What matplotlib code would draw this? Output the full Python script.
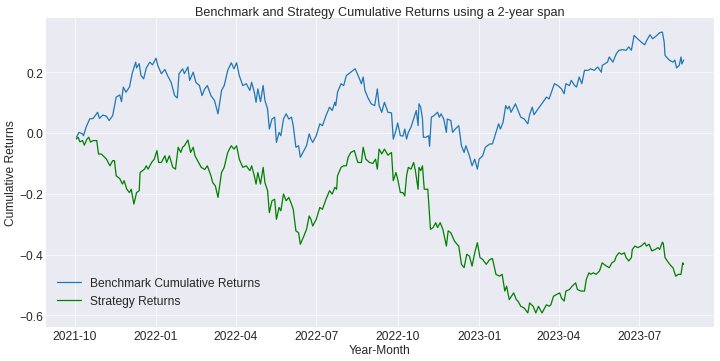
import pandas as pd
import matplotlib
matplotlib.use("Agg")
import matplotlib.pyplot as plt
import matplotlib.dates as mdates

# Benchmark cumulative returns
bench_dates = [
    "2021-10-03", "2021-10-06", "2021-10-10", "2021-10-11", "2021-10-14", "2021-10-18", "2021-10-22",
    "2021-10-27", "2021-10-29", "2021-11-02", "2021-11-06", "2021-11-09", "2021-11-13", "2021-11-17",
    "2021-11-21", "2021-11-23", "2021-11-25", "2021-11-28", "2021-12-02", "2021-12-05", "2021-12-09",
    "2021-12-10", "2021-12-13", "2021-12-15", "2021-12-18", "2021-12-21", "2021-12-25", "2021-12-28",
    "2022-01-01", "2022-01-03", "2022-01-07", "2022-01-11", "2022-01-14", "2022-01-18", "2022-01-22",
    "2022-01-25", "2022-01-27", "2022-01-31", "2022-02-02", "2022-02-06", "2022-02-08", "2022-02-12",
    "2022-02-15", "2022-02-19", "2022-02-22", "2022-02-25", "2022-02-28", "2022-03-04", "2022-03-08",
    "2022-03-12", "2022-03-16", "2022-03-19", "2022-03-23", "2022-03-27", "2022-03-30", "2022-04-02",
    "2022-04-05", "2022-04-09", "2022-04-13", "2022-04-17", "2022-04-19", "2022-04-22", "2022-04-24",
    "2022-04-26", "2022-04-29", "2022-05-02", "2022-05-04", "2022-05-07", "2022-05-09", "2022-05-12",
    "2022-05-15", "2022-05-17", "2022-05-20", "2022-05-22", "2022-05-25", "2022-05-28", "2022-05-31",
    "2022-06-03", "2022-06-05", "2022-06-08", "2022-06-11", "2022-06-13", "2022-06-17", "2022-06-20",
    "2022-06-23", "2022-06-25", "2022-06-27", "2022-07-01", "2022-07-05", "2022-07-08", "2022-07-12",
    "2022-07-16", "2022-07-19", "2022-07-22", "2022-07-23", "2022-07-25", "2022-07-29", "2022-08-01",
    "2022-08-04", "2022-08-09", "2022-08-14", "2022-08-18", "2022-08-21", "2022-08-23", "2022-08-25",
    "2022-08-28", "2022-09-01", "2022-09-05", "2022-09-08", "2022-09-10", "2022-09-13", "2022-09-16",
    "2022-09-20", "2022-09-24", "2022-09-26", "2022-09-29", "2022-10-01", "2022-10-04", "2022-10-07",
    "2022-10-09", "2022-10-11", "2022-10-13", "2022-10-16", "2022-10-19", "2022-10-22", "2022-10-24",
    "2022-10-25", "2022-10-27", "2022-10-29", "2022-10-30", "2022-11-02", "2022-11-05", "2022-11-06",
    "2022-11-08", "2022-11-11", "2022-11-15", "2022-11-17", "2022-11-19", "2022-11-22", "2022-11-25",
    "2022-11-26", "2022-11-30", "2022-12-02", "2022-12-05", "2022-12-09", "2022-12-12", "2022-12-15",
    "2022-12-17", "2022-12-21", "2022-12-24", "2022-12-27", "2022-12-30", "2023-01-01", "2023-01-05",
    "2023-01-08", "2023-01-13", "2023-01-16", "2023-01-20", "2023-01-23", "2023-01-25", "2023-01-28",
    "2023-01-31", "2023-02-02", "2023-02-04", "2023-02-06", "2023-02-08", "2023-02-11", "2023-02-14",
    "2023-02-17", "2023-02-21", "2023-02-25", "2023-02-27", "2023-03-02", "2023-03-04", "2023-03-08",
    "2023-03-14", "2023-03-18", "2023-03-21", "2023-03-23", "2023-03-27", "2023-03-31", "2023-04-04",
    "2023-04-07", "2023-04-09", "2023-04-13", "2023-04-15", "2023-04-19", "2023-04-21", "2023-04-24",
    "2023-04-27", "2023-04-30", "2023-05-04", "2023-05-07", "2023-05-11", "2023-05-15", "2023-05-19",
    "2023-05-20", "2023-05-26", "2023-05-28", "2023-06-01", "2023-06-05", "2023-06-08", "2023-06-12",
    "2023-06-16", "2023-06-19", "2023-06-22", "2023-06-25", "2023-06-29", "2023-07-03", "2023-07-07",
    "2023-07-09", "2023-07-13", "2023-07-16", "2023-07-20", "2023-07-24", "2023-07-27", "2023-07-29",
    "2023-07-30", "2023-08-04", "2023-08-08", "2023-08-10", "2023-08-12", "2023-08-15", "2023-08-17",
    "2023-08-18", "2023-08-20",
]
bench_values = [
    -0.014, 0.002, -0.003, -0.009, 0.019, 0.046, 0.048,
    0.068, 0.048, 0.059, 0.055, 0.041, 0.057, 0.118,
    0.125, 0.103, 0.151, 0.134, 0.151, 0.195, 0.233,
    0.214, 0.228, 0.189, 0.178, 0.214, 0.233, 0.224,
    0.246, 0.222, 0.195, 0.209, 0.189, 0.167, 0.123,
    0.115, 0.195, 0.211, 0.195, 0.217, 0.173, 0.200,
    0.167, 0.156, 0.123, 0.145, 0.156, 0.123, 0.107,
    0.063, 0.140, 0.156, 0.206, 0.231, 0.211, 0.231,
    0.189, 0.156, 0.162, 0.140, 0.167, 0.134, 0.101,
    0.145, 0.103, 0.156, 0.107, 0.079, 0.013, 0.046,
    0.052, -0.031, 0.002, -0.009, 0.046, 0.063, 0.046,
    0.052, 0.024, -0.047, -0.042, -0.080, -0.058, -0.042,
    -0.003, -0.020, -0.031, -0.009, 0.030, 0.024, 0.057,
    0.085, 0.074, 0.101, 0.090, 0.134, 0.162, 0.156,
    0.189, 0.200, 0.211, 0.184, 0.162, 0.184, 0.140,
    0.118, 0.096, 0.090, 0.145, 0.090, 0.068, 0.101,
    0.068, 0.066, -0.020, 0.008, 0.033, -0.009, -0.010,
    0.013, -0.020, 0.002, 0.019, 0.046, 0.074, 0.024,
    0.096, 0.085, 0.046, -0.014, -0.014, -0.009, -0.044,
    0.052, 0.057, 0.068, 0.052, 0.063, 0.046, 0.002,
    0.046, 0.041, 0.002, 0.013, 0.024, -0.042, -0.064,
    -0.042, -0.075, -0.108, -0.086, -0.119, -0.086, -0.075,
    -0.047, -0.036, -0.036, 0.002, 0.030, 0.013, 0.035,
    0.090, 0.079, 0.088, 0.068, 0.079, 0.096, 0.074,
    0.052, 0.046, 0.030, 0.060, 0.085, 0.060, 0.077,
    0.101, 0.118, 0.112, 0.129, 0.162, 0.156, 0.145,
    0.129, 0.162, 0.156, 0.173, 0.156, 0.151, 0.184,
    0.162, 0.206, 0.206, 0.211, 0.206, 0.217, 0.200,
    0.222, 0.233, 0.250, 0.233, 0.261, 0.272, 0.274,
    0.272, 0.283, 0.272, 0.321, 0.310, 0.299, 0.290,
    0.303, 0.323, 0.310, 0.319, 0.330, 0.332, 0.299,
    0.255, 0.239, 0.233, 0.240, 0.214, 0.222, 0.250,
    0.227, 0.240,
]

# Strategy cumulative returns
strat_dates = [
    "2021-10-03", "2021-10-05", "2021-10-07", "2021-10-10", "2021-10-12", "2021-10-15", "2021-10-17",
    "2021-10-19", "2021-10-22", "2021-10-26", "2021-10-28", "2021-10-31", "2021-11-03", "2021-11-06",
    "2021-11-10", "2021-11-13", "2021-11-15", "2021-11-17", "2021-11-21", "2021-11-24", "2021-11-26",
    "2021-11-29", "2021-12-02", "2021-12-04", "2021-12-07", "2021-12-10", "2021-12-13", "2021-12-14",
    "2021-12-19", "2021-12-21", "2021-12-23", "2021-12-27", "2021-12-30", "2022-01-02", "2022-01-04",
    "2022-01-07", "2022-01-11", "2022-01-13", "2022-01-16", "2022-01-20", "2022-01-23", "2022-01-26",
    "2022-01-29", "2022-01-31", "2022-02-02", "2022-02-06", "2022-02-09", "2022-02-12", "2022-02-14",
    "2022-02-17", "2022-02-21", "2022-02-25", "2022-02-28", "2022-03-04", "2022-03-06", "2022-03-09",
    "2022-03-12", "2022-03-16", "2022-03-19", "2022-03-23", "2022-03-27", "2022-03-30", "2022-04-02",
    "2022-04-05", "2022-04-09", "2022-04-13", "2022-04-17", "2022-04-19", "2022-04-22", "2022-04-24",
    "2022-04-26", "2022-04-29", "2022-05-02", "2022-05-04", "2022-05-07", "2022-05-09", "2022-05-12",
    "2022-05-15", "2022-05-17", "2022-05-20", "2022-05-22", "2022-05-25", "2022-05-28", "2022-05-31",
    "2022-06-03", "2022-06-05", "2022-06-08", "2022-06-11", "2022-06-13", "2022-06-17", "2022-06-20",
    "2022-06-23", "2022-06-25", "2022-06-27", "2022-07-01", "2022-07-05", "2022-07-08", "2022-07-12",
    "2022-07-16", "2022-07-19", "2022-07-22", "2022-07-24", "2022-07-25", "2022-07-29", "2022-08-01",
    "2022-08-04", "2022-08-06", "2022-08-09", "2022-08-13", "2022-08-17", "2022-08-21", "2022-08-23",
    "2022-08-26", "2022-08-30", "2022-09-03", "2022-09-06", "2022-09-08", "2022-09-10", "2022-09-13",
    "2022-09-16", "2022-09-20", "2022-09-24", "2022-09-26", "2022-09-29", "2022-10-01", "2022-10-04",
    "2022-10-07", "2022-10-09", "2022-10-11", "2022-10-13", "2022-10-16", "2022-10-19", "2022-10-21",
    "2022-10-24", "2022-10-25", "2022-10-27", "2022-10-29", "2022-10-31", "2022-11-04", "2022-11-07",
    "2022-11-10", "2022-11-13", "2022-11-15", "2022-11-18", "2022-11-21", "2022-11-25", "2022-11-27",
    "2022-11-30", "2022-12-04", "2022-12-07", "2022-12-09", "2022-12-12", "2022-12-15", "2022-12-18",
    "2022-12-21", "2022-12-24", "2022-12-27", "2022-12-30", "2023-01-02", "2023-01-05", "2023-01-09",
    "2023-01-13", "2023-01-16", "2023-01-20", "2023-01-24", "2023-01-27", "2023-01-30", "2023-02-01",
    "2023-02-04", "2023-02-09", "2023-02-12", "2023-02-14", "2023-02-17", "2023-02-21", "2023-02-25",
    "2023-02-27", "2023-03-03", "2023-03-06", "2023-03-09", "2023-03-13", "2023-03-18", "2023-03-21",
    "2023-03-23", "2023-03-26", "2023-03-29", "2023-04-02", "2023-04-04", "2023-04-07", "2023-04-09",
    "2023-04-13", "2023-04-16", "2023-04-20", "2023-04-22", "2023-04-26", "2023-04-30", "2023-05-02",
    "2023-05-05", "2023-05-07", "2023-05-10", "2023-05-13", "2023-05-17", "2023-05-20", "2023-05-22",
    "2023-05-25", "2023-05-28", "2023-05-31", "2023-06-03", "2023-06-05", "2023-06-08", "2023-06-11",
    "2023-06-14", "2023-06-16", "2023-06-19", "2023-06-22", "2023-06-23", "2023-06-26", "2023-06-29",
    "2023-07-03", "2023-07-07", "2023-07-09", "2023-07-12", "2023-07-15", "2023-07-19", "2023-07-22",
    "2023-07-24", "2023-07-27", "2023-07-28", "2023-07-30", "2023-08-03", "2023-08-06", "2023-08-08",
    "2023-08-11", "2023-08-14", "2023-08-17", "2023-08-19", "2023-08-20",
]
strat_values = [
    -0.020, -0.014, -0.029, -0.025, -0.040, -0.020, -0.014,
    -0.030, -0.025, -0.025, -0.069, -0.069, -0.077, -0.086,
    -0.108, -0.091, -0.091, -0.141, -0.150, -0.168, -0.157,
    -0.185, -0.196, -0.185, -0.234, -0.196, -0.190, -0.130,
    -0.119, -0.108, -0.119, -0.097, -0.086, -0.058, -0.097,
    -0.097, -0.075, -0.097, -0.075, -0.113, -0.119, -0.047,
    -0.064, -0.047, -0.042, -0.023, -0.064, -0.047, -0.075,
    -0.091, -0.113, -0.120, -0.108, -0.141, -0.163, -0.174,
    -0.212, -0.130, -0.113, -0.064, -0.042, -0.053, -0.042,
    -0.086, -0.113, -0.108, -0.124, -0.108, -0.141, -0.168,
    -0.130, -0.168, -0.113, -0.163, -0.190, -0.262, -0.223,
    -0.218, -0.284, -0.245, -0.256, -0.201, -0.223, -0.212,
    -0.234, -0.251, -0.322, -0.328, -0.366, -0.339, -0.317,
    -0.273, -0.284, -0.306, -0.284, -0.245, -0.251, -0.218,
    -0.190, -0.201, -0.179, -0.185, -0.141, -0.113, -0.108,
    -0.108, -0.080, -0.064, -0.058, -0.097, -0.097, -0.047,
    -0.086, -0.097, -0.100, -0.086, -0.119, -0.053, -0.069,
    -0.053, -0.073, -0.064, -0.157, -0.130, -0.152, -0.196,
    -0.196, -0.207, -0.141, -0.113, -0.119, -0.097, -0.124,
    -0.185, -0.113, -0.124, -0.108, -0.185, -0.185, -0.317,
    -0.311, -0.295, -0.311, -0.295, -0.317, -0.372, -0.322,
    -0.328, -0.355, -0.366, -0.372, -0.432, -0.443, -0.399,
    -0.405, -0.438, -0.394, -0.361, -0.410, -0.416, -0.432,
    -0.416, -0.413, -0.465, -0.471, -0.465, -0.520, -0.504,
    -0.548, -0.526, -0.548, -0.554, -0.570, -0.576, -0.592,
    -0.559, -0.570, -0.592, -0.570, -0.592, -0.565, -0.570,
    -0.565, -0.537, -0.532, -0.526, -0.543, -0.553, -0.520,
    -0.515, -0.504, -0.493, -0.515, -0.520, -0.520, -0.482,
    -0.460, -0.465, -0.460, -0.465, -0.454, -0.427, -0.432,
    -0.438, -0.443, -0.427, -0.421, -0.405, -0.394, -0.399,
    -0.394, -0.410, -0.421, -0.410, -0.383, -0.372, -0.377,
    -0.372, -0.361, -0.372, -0.366, -0.388, -0.383, -0.377,
    -0.383, -0.359, -0.363, -0.410, -0.427, -0.438, -0.443,
    -0.471, -0.465, -0.465, -0.427, -0.432,
]

plt.style.use("seaborn-v0_8-darkgrid")
plt.rcParams["font.family"] = ["Liberation Sans", "DejaVu Sans"]

fig, ax = plt.subplots(figsize=(12, 6.0333), dpi=60)
fig.subplots_adjust(left=46 / 720, right=714 / 720, top=1 - 19 / 362, bottom=1 - 328 / 362)

ax.plot(pd.to_datetime(bench_dates), bench_values, color="#1f77b4", lw=1.5,
        label="Benchmark Cumulative Returns")
ax.plot(pd.to_datetime(strat_dates), strat_values, color="green", lw=1.5,
        label="Strategy Returns")

ax.xaxis.set_major_locator(mdates.MonthLocator(bymonth=[1, 4, 7, 10]))
ax.xaxis.set_major_formatter(mdates.DateFormatter("%Y-%m"))
ax.tick_params(labelsize=14.4)

ax.set_title("Benchmark and Strategy Cumulative Returns using a 2-year span", fontsize=15.2, pad=3)
ax.set_xlabel("Year-Month", fontsize=14.4, labelpad=2)
ax.set_ylabel("Cumulative Returns", fontsize=14.4, labelpad=3)
ax.legend(loc="lower left", bbox_to_anchor=(0, 0.03), fontsize=14.4, frameon=False)

fig.savefig("out.png", dpi=60)
